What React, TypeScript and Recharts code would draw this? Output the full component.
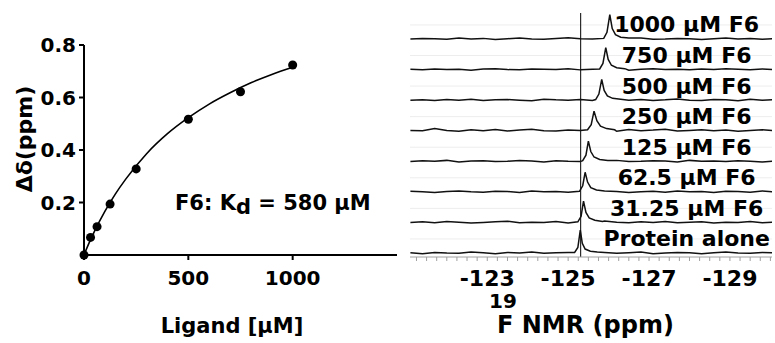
import {
  ComposedChart,
  LineChart,
  Line,
  Scatter,
  XAxis,
  YAxis,
  ReferenceLine,
  ReferenceDot,
} from 'recharts';

const FONT = '"DejaVu Sans", sans-serif';

// titration: ligand concentration vs chemical shift change
const ligandUM = [0, 31.25, 62.5, 125, 250, 500, 750, 1000];
const deltaPpm = [0, 0.067, 0.108, 0.194, 0.328, 0.517, 0.622, 0.724];

// fitted curve
const fitLigand = [0, 25, 50, 100, 150, 200, 300, 400, 500, 600, 700, 800, 900, 1000];
const fitDelta = [0, 0.047, 0.09, 0.166, 0.232, 0.289, 0.386, 0.462, 0.523, 0.575, 0.618, 0.656, 0.688, 0.715];

const ligandTicks = [0, 500, 1000];
const deltaTicks = [0.2, 0.4, 0.6, 0.8];

// 19F spectra, bottom to top
const spectrumLabels = [
  'Protein alone',
  '31.25 µM F6',
  '62.5 µM F6',
  '125 µM F6',
  '250 µM F6',
  '500 µM F6',
  '750 µM F6',
  '1000 µM F6',
];

const nmrTicks = [-123, -125, -127, -129];
const refPpm = -125.31;

const gridPpm = [
  -121.1, -121.4, -121.7, -122.0, -122.3, -122.6, -122.9, -123.2, -123.5, -123.8, -124.1,
  -124.4, -124.7, -125.0, -125.3, -125.6, -125.9, -126.2, -126.5, -126.8, -127.1, -127.4,
  -127.7, -128.0, -128.3, -128.6, -128.9, -129.2, -129.5, -129.8, -130.1,
];

const noise0 = [0.01, -0.02, 0.02, 0.0, -0.01, 0.03, 0.01, -0.02, 0.02, 0.0, 0.03, -0.01, 0.01, 0.02, 0.0, 0.04, 0.02, -0.01, 0.01, 0.03, -0.02, 0.0, 0.02, 0.01, -0.02, 0.01, 0.03, 0.0, -0.01, 0.02, 0.01];
const noise1 = [0.0, 0.02, -0.01, 0.03, 0.01, -0.02, 0.0, 0.02, 0.04, -0.01, 0.01, 0.0, 0.03, -0.02, 0.01, 0.02, 0.05, 0.01, -0.01, 0.02, 0.0, 0.03, -0.01, 0.01, 0.02, -0.02, 0.01, 0.0, 0.03, -0.01, 0.01];
const noise2 = [0.02, 0.0, -0.02, 0.01, 0.03, 0.0, -0.01, 0.02, 0.01, -0.02, 0.03, 0.0, 0.01, -0.01, 0.02, 0.0, 0.03, 0.01, -0.02, 0.0, 0.02, -0.01, 0.03, 0.0, 0.01, -0.02, 0.02, 0.01, -0.01, 0.03, 0.0];
const noise3 = [-0.01, 0.02, 0.0, 0.03, -0.02, 0.01, 0.02, -0.01, 0.0, 0.03, 0.01, -0.02, 0.02, 0.0, -0.01, 0.02, 0.01, 0.03, -0.01, 0.0, 0.02, 0.01, -0.02, 0.03, 0.0, 0.01, -0.01, 0.02, 0.0, -0.02, 0.01];
const noise4 = [0.01, 0.0, 0.07, 0.01, -0.02, 0.03, 0.0, 0.04, -0.01, 0.02, 0.05, 0.0, -0.01, 0.02, 0.01, 0.0, 0.03, -0.02, 0.04, 0.0, 0.02, 0.05, -0.01, 0.01, 0.03, 0.0, 0.02, -0.02, 0.01, 0.03, 0.0];
const noise5 = [0.0, 0.01, -0.01, 0.02, 0.0, 0.03, -0.01, 0.01, 0.02, 0.0, -0.02, 0.03, 0.01, 0.0, 0.02, -0.01, 0.01, 0.03, 0.0, 0.02, -0.01, 0.01, 0.04, 0.0, -0.01, 0.02, 0.01, -0.02, 0.03, 0.0, 0.02];
const noise6 = [0.01, -0.01, 0.02, 0.0, 0.01, -0.02, 0.02, 0.03, 0.0, -0.01, 0.02, 0.01, 0.0, 0.03, -0.01, 0.01, 0.02, 0.0, -0.02, 0.01, 0.03, 0.0, 0.01, -0.01, 0.02, 0.0, 0.03, 0.01, -0.01, 0.02, 0.0];
const noise7 = [0.0, 0.02, 0.01, -0.01, 0.03, 0.0, 0.02, -0.02, 0.01, 0.03, 0.0, -0.01, 0.02, 0.04, 0.01, 0.0, -0.01, 0.02, 0.01, 0.03, -0.01, 0.0, 0.02, 0.01, -0.02, 0.01, 0.03, 0.0, 0.02, -0.01, 0.01];

// [ppm, intensity] around each peak
const peak0 = [[-125.16, 0.02], [-125.24, 0.18], [-125.3, 0.75], [-125.35, 0.32], [-125.42, 0.13], [-125.55, 0.06], [-125.72, 0.03]];
const peak1 = [[-125.24, 0.02], [-125.32, 0.2], [-125.38, 0.7], [-125.44, 0.33], [-125.52, 0.15], [-125.66, 0.07], [-125.85, 0.03]];
const peak2 = [[-125.28, 0.02], [-125.36, 0.2], [-125.42, 0.64], [-125.48, 0.32], [-125.56, 0.14], [-125.7, 0.06], [-125.9, 0.03]];
const peak3 = [[-125.36, 0.02], [-125.44, 0.2], [-125.5, 0.66], [-125.56, 0.32], [-125.64, 0.14], [-125.78, 0.06], [-125.98, 0.03]];
const peak4 = [[-125.48, 0.03], [-125.57, 0.2], [-125.64, 0.64], [-125.71, 0.33], [-125.8, 0.15], [-125.95, 0.07], [-126.15, 0.03]];
const peak5 = [[-125.68, 0.02], [-125.76, 0.2], [-125.83, 0.68], [-125.89, 0.32], [-125.97, 0.14], [-126.1, 0.06], [-126.3, 0.03]];
const peak6 = [[-125.78, 0.02], [-125.86, 0.2], [-125.93, 0.72], [-125.99, 0.33], [-126.07, 0.14], [-126.2, 0.06], [-126.4, 0.03]];
const peak7 = [[-125.88, 0.02], [-125.96, 0.22], [-126.03, 0.8], [-126.09, 0.34], [-126.17, 0.14], [-126.3, 0.06], [-126.5, 0.03]];

const noises = [noise0, noise1, noise2, noise3, noise4, noise5, noise6, noise7];
const peaks = [peak0, peak1, peak2, peak3, peak4, peak5, peak6, peak7];

const points = ligandUM.map((x, i) => ({ x, y: deltaPpm[i] }));
const fit = fitLigand.map((x, i) => ({ x, y: fitDelta[i] }));

// each spectrum sits one unit above the previous one
function buildTrace(idx: number) {
  const pk = peaks[idx];
  const hi = pk[0][0];
  const lo = pk[pk.length - 1][0];
  const base = gridPpm
    .map((p, i) => ({ ppm: p, v: noises[idx][i] }))
    .filter((d) => d.ppm > hi || d.ppm < lo);
  const peakPts = pk.map(([p, v]) => ({ ppm: p, v }));
  return [...base, ...peakPts]
    .sort((a, b) => b.ppm - a.ppm)
    .map((d) => ({ ppm: d.ppm, y: d.v + idx }));
}
const traces = spectrumLabels.map((_, i) => buildTrace(i));

const minorTicks: number[] = [];
for (let t = -121.25; t >= -130; t -= 0.25) minorTicks.push(Math.round(t * 100) / 100);

const tickFont = { fill: '#000', fontSize: 20, fontWeight: 'bold', fontFamily: FONT };

function BindingChart() {
  return (
    <ComposedChart width={400} height={343} margin={{ top: 45, right: 3, bottom: 0, left: 0 }}>
      <XAxis
        type="number"
        dataKey="x"
        domain={[0, 1500]}
        ticks={ligandTicks}
        height={88}
        stroke="#000"
        strokeWidth={2}
        tickSize={5}
        tickMargin={11}
        tick={tickFont}
        label={() => (
          <text x={232} y={333} textAnchor="middle" fontSize={21} fontWeight="bold" fontFamily={FONT} fill="#000">
            Ligand [µM]
          </text>
        )}
      />
      <YAxis
        type="number"
        dataKey="y"
        domain={[0, 0.8]}
        ticks={deltaTicks}
        width={84}
        stroke="#000"
        strokeWidth={2}
        tickSize={5}
        tickMargin={3}
        tick={tickFont}
        label={() => (
          <text
            x={32}
            y={139}
            transform="rotate(-90 32 139)"
            textAnchor="middle"
            fontSize={22}
            fontWeight="bold"
            fontFamily={FONT}
            fill="#000"
          >
            Δδ(ppm)
          </text>
        )}
      />
      <Line
        data={fit}
        dataKey="y"
        type="monotone"
        stroke="#000"
        strokeWidth={1.6}
        dot={false}
        isAnimationActive={false}
      />
      <Scatter data={points} dataKey="y" fill="#000" isAnimationActive={false} />
      <ReferenceDot
        x={436}
        y={0.171}
        r={0}
        label={(p: any) => (
          <text x={p.viewBox.x} y={p.viewBox.y} fontSize={21} fontWeight="bold" fontFamily={FONT} fill="#000">
            F6: K
            <tspan dy={4}>d</tspan>
            <tspan dy={-4}> = 580 µM</tspan>
          </text>
        )}
      />
    </ComposedChart>
  );
}

function SpectraChart() {
  return (
    <LineChart width={375} height={343} margin={{ top: 13, right: 3, bottom: 0, left: 10 }}>
      <XAxis
        type="number"
        dataKey="ppm"
        domain={[-130.04, -121.09]}
        reversed
        allowDataOverflow
        ticks={minorTicks}
        interval={0}
        tickFormatter={(v: number) => (nmrTicks.includes(v) ? String(v) : '')}
        height={86}
        stroke="#a0a0a0"
        tickSize={4}
        tickMargin={9}
        tick={{ ...tickFont, fontSize: 22 }}
        label={() => (
          <text fontWeight="bold" fontFamily={FONT} fill="#000">
            <tspan x={89} y={308} fontSize={20}>19</tspan>
            <tspan x={97} y={333} fontSize={24}>F NMR (ppm)</tspan>
          </text>
        )}
      />
      <YAxis type="number" domain={[-0.13, 7.85]} hide allowDataOverflow />
      {spectrumLabels.map((_, i) => (
        <ReferenceLine key={'row' + i} y={i + 0.46} stroke="#ededed" strokeWidth={1} />
      ))}
      <ReferenceLine x={refPpm} stroke="#000" strokeWidth={1} />
      {traces.map((d, i) => (
        <Line
          key={'tr' + i}
          data={d}
          dataKey="y"
          type="linear"
          stroke="#111"
          strokeWidth={1.5}
          dot={false}
          isAnimationActive={false}
        />
      ))}
      {spectrumLabels.map((name, i) => (
        <ReferenceDot
          key={'lb' + i}
          x={-127.93}
          y={i + 0.47}
          r={0}
          label={{ value: name, position: 'center', fill: '#000', fontSize: 22, fontWeight: 'bold', fontFamily: FONT }}
        />
      ))}
    </LineChart>
  );
}

export default function App() {
  return (
    <div style={{ position: 'absolute', left: 0, top: 0, width: 775, height: 343, background: '#fff' }}>
      <div style={{ position: 'absolute', left: 0, top: 0 }}>
        <BindingChart />
      </div>
      <div style={{ position: 'absolute', left: 400, top: 0 }}>
        <SpectraChart />
      </div>
    </div>
  );
}
